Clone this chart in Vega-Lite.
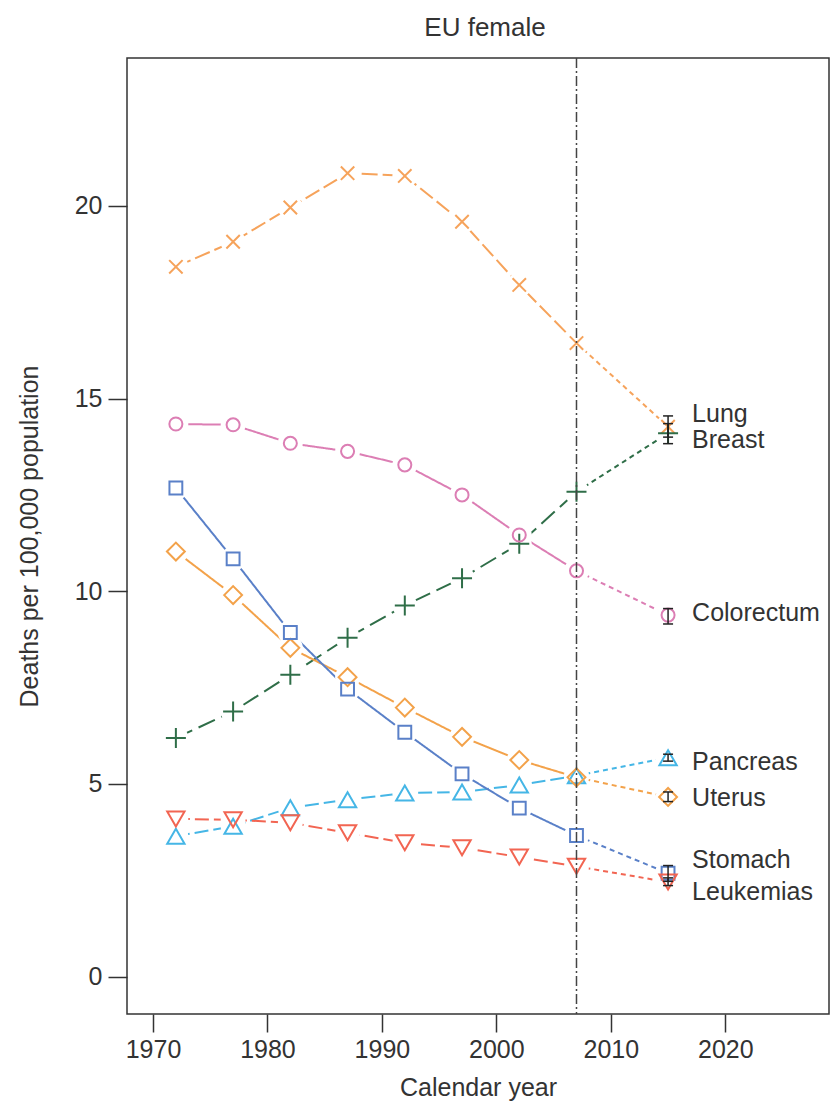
{
  "$schema": "https://vega.github.io/schema/vega-lite/v6.json",
  "width": 702,
  "height": 956,
  "autosize": {"type": "none"},
  "padding": {"left": 127, "top": 58, "right": 2, "bottom": 92},
  "title": {"text": "EU female", "fontSize": 26, "fontWeight": "normal", "color": "#333", "offset": 16, "dx": 7, "font": "Liberation Sans"},
  "config": {
    "font": "Liberation Sans",
    "view": {"stroke": "#333", "strokeWidth": 1.5},
    "axis": {"grid": false, "domain": false, "tickColor": "#333", "tickWidth": 1.5, "labelColor": "#333", "labelFontSize": 25, "titleFontSize": 25, "titleFontWeight": "normal", "titleColor": "#333"},
    "axisX": {"tickSize": 18, "labelPadding": 5, "titlePadding": 13},
    "axisY": {"tickSize": 19, "labelPadding": 6, "titlePadding": 32}
  },
  "datasets": {
    "main": [
      {"cancer": "Lung", "year": 1972, "rate": 18.42},
      {"cancer": "Lung", "year": 1977, "rate": 19.07},
      {"cancer": "Lung", "year": 1982, "rate": 19.96},
      {"cancer": "Lung", "year": 1987, "rate": 20.85},
      {"cancer": "Lung", "year": 1992, "rate": 20.78},
      {"cancer": "Lung", "year": 1997, "rate": 19.59},
      {"cancer": "Lung", "year": 2002, "rate": 17.95},
      {"cancer": "Lung", "year": 2007, "rate": 16.44},
      {"cancer": "Lung", "year": 2015, "rate": 14.27, "lo": 14.0, "hi": 14.55},
      {"cancer": "Breast", "year": 1972, "rate": 6.19},
      {"cancer": "Breast", "year": 1977, "rate": 6.88},
      {"cancer": "Breast", "year": 1982, "rate": 7.83},
      {"cancer": "Breast", "year": 1987, "rate": 8.79},
      {"cancer": "Breast", "year": 1992, "rate": 9.63},
      {"cancer": "Breast", "year": 1997, "rate": 10.34},
      {"cancer": "Breast", "year": 2002, "rate": 11.23},
      {"cancer": "Breast", "year": 2007, "rate": 12.58},
      {"cancer": "Breast", "year": 2015, "rate": 14.1, "lo": 13.83, "hi": 14.35},
      {"cancer": "Colorectum", "year": 1972, "rate": 14.34},
      {"cancer": "Colorectum", "year": 1977, "rate": 14.32},
      {"cancer": "Colorectum", "year": 1982, "rate": 13.84},
      {"cancer": "Colorectum", "year": 1987, "rate": 13.63},
      {"cancer": "Colorectum", "year": 1992, "rate": 13.28},
      {"cancer": "Colorectum", "year": 1997, "rate": 12.5},
      {"cancer": "Colorectum", "year": 2002, "rate": 11.46},
      {"cancer": "Colorectum", "year": 2007, "rate": 10.53},
      {"cancer": "Colorectum", "year": 2015, "rate": 9.38, "lo": 9.15, "hi": 9.55},
      {"cancer": "Pancreas", "year": 1972, "rate": 3.64},
      {"cancer": "Pancreas", "year": 1977, "rate": 3.9},
      {"cancer": "Pancreas", "year": 1982, "rate": 4.38},
      {"cancer": "Pancreas", "year": 1987, "rate": 4.59},
      {"cancer": "Pancreas", "year": 1992, "rate": 4.76},
      {"cancer": "Pancreas", "year": 1997, "rate": 4.79},
      {"cancer": "Pancreas", "year": 2002, "rate": 4.97},
      {"cancer": "Pancreas", "year": 2007, "rate": 5.21},
      {"cancer": "Pancreas", "year": 2015, "rate": 5.68, "lo": 5.59, "hi": 5.77},
      {"cancer": "Uterus", "year": 1972, "rate": 11.03},
      {"cancer": "Uterus", "year": 1977, "rate": 9.9},
      {"cancer": "Uterus", "year": 1982, "rate": 8.53},
      {"cancer": "Uterus", "year": 1987, "rate": 7.77},
      {"cancer": "Uterus", "year": 1992, "rate": 6.98},
      {"cancer": "Uterus", "year": 1997, "rate": 6.22},
      {"cancer": "Uterus", "year": 2002, "rate": 5.62},
      {"cancer": "Uterus", "year": 2007, "rate": 5.17},
      {"cancer": "Uterus", "year": 2015, "rate": 4.66, "lo": 4.54, "hi": 4.79},
      {"cancer": "Stomach", "year": 1972, "rate": 12.68},
      {"cancer": "Stomach", "year": 1977, "rate": 10.84},
      {"cancer": "Stomach", "year": 1982, "rate": 8.93},
      {"cancer": "Stomach", "year": 1987, "rate": 7.46},
      {"cancer": "Stomach", "year": 1992, "rate": 6.34},
      {"cancer": "Stomach", "year": 1997, "rate": 5.26},
      {"cancer": "Stomach", "year": 2002, "rate": 4.37},
      {"cancer": "Stomach", "year": 2007, "rate": 3.66},
      {"cancer": "Stomach", "year": 2015, "rate": 2.68, "lo": 2.47, "hi": 2.88},
      {"cancer": "Leukemias", "year": 1972, "rate": 4.09},
      {"cancer": "Leukemias", "year": 1977, "rate": 4.07},
      {"cancer": "Leukemias", "year": 1982, "rate": 3.99},
      {"cancer": "Leukemias", "year": 1987, "rate": 3.73},
      {"cancer": "Leukemias", "year": 1992, "rate": 3.47},
      {"cancer": "Leukemias", "year": 1997, "rate": 3.34},
      {"cancer": "Leukemias", "year": 2002, "rate": 3.1},
      {"cancer": "Leukemias", "year": 2007, "rate": 2.86},
      {"cancer": "Leukemias", "year": 2015, "rate": 2.45, "lo": 2.36, "hi": 2.56}
    ],
    "labels": [
      {"cancer": "Lung", "year": 2017.1, "rate": 14.6},
      {"cancer": "Breast", "year": 2017.1, "rate": 13.92},
      {"cancer": "Colorectum", "year": 2017.1, "rate": 9.44},
      {"cancer": "Pancreas", "year": 2017.1, "rate": 5.57},
      {"cancer": "Uterus", "year": 2017.1, "rate": 4.63},
      {"cancer": "Stomach", "year": 2017.1, "rate": 3.02},
      {"cancer": "Leukemias", "year": 2017.1, "rate": 2.19}
    ],
    "vline": [{"year": 2007}]
  },
  "layer": [
    {
      "data": {"name": "main"},
      "transform": [{"filter": "datum.year <= 2007"}],
      "mark": {"type": "line", "strokeWidth": 2},
      "encoding": {
        "x": {"field": "year", "type": "quantitative", "scale": {"domain": [1967.73, 2029.06], "nice": false, "zero": false}, "axis": {"values": [1970, 1980, 1990, 2000, 2010, 2020], "format": "d"}, "title": "Calendar year"},
        "y": {"field": "rate", "type": "quantitative", "scale": {"domain": [-0.973, 23.84], "nice": false, "zero": false}, "axis": {"values": [0, 5, 10, 15, 20]}, "title": "Deaths per 100,000 population"},
        "color": {"field": "cancer", "type": "nominal", "legend": null, "scale": {"domain": ["Lung", "Breast", "Colorectum", "Pancreas", "Uterus", "Stomach", "Leukemias"], "range": ["#F6A35B", "#2F6E48", "#DC7EB4", "#45B6E6", "#F3A24A", "#5A80C8", "#F26552"]}},
        "strokeDash": {"field": "cancer", "type": "nominal", "legend": null, "scale": {"domain": ["Lung", "Breast", "Colorectum", "Pancreas", "Uterus", "Stomach", "Leukemias"], "range": [[16, 5], [18, 7], [1, 0], [14, 5], [1, 0], [1, 0], [14, 5]]}}
      }
    },
    {
      "data": {"name": "main"},
      "transform": [{"filter": "datum.year >= 2007"}],
      "mark": {"type": "line", "strokeWidth": 2, "strokeDash": [5, 4]},
      "encoding": {
        "x": {"field": "year", "type": "quantitative", "title": "Calendar year"},
        "y": {"field": "rate", "type": "quantitative", "title": "Deaths per 100,000 population"},
        "color": {"field": "cancer", "type": "nominal", "legend": null},
        "detail": {"field": "cancer"}
      }
    },
    {
      "data": {"name": "main"},
      "mark": {"type": "point", "filled": true, "shape": "circle", "size": 620, "color": "white", "opacity": 1, "strokeWidth": 0},
      "encoding": {
        "x": {"field": "year", "type": "quantitative", "title": "Calendar year"},
        "y": {"field": "rate", "type": "quantitative", "title": "Deaths per 100,000 population"}
      }
    },
    {
      "data": {"name": "main"},
      "mark": {"type": "point", "filled": false, "strokeWidth": 2, "opacity": 1},
      "encoding": {
        "x": {"field": "year", "type": "quantitative", "title": "Calendar year"},
        "y": {"field": "rate", "type": "quantitative", "title": "Deaths per 100,000 population"},
        "color": {"field": "cancer", "type": "nominal", "legend": null},
        "shape": {"field": "cancer", "type": "nominal", "legend": null, "scale": {"domain": ["Lung", "Breast", "Colorectum", "Pancreas", "Uterus", "Stomach", "Leukemias"], "range": ["M-1,-1L1,1M-1,1L1,-1", "M-1,0L1,0M0,-1L0,1", "circle", "triangle-up", "diamond", "square", "triangle-down"]}},
        "size": {"field": "cancer", "type": "nominal", "legend": null, "scale": {"type": "ordinal", "domain": ["Lung", "Breast", "Colorectum", "Pancreas", "Uterus", "Stomach", "Leukemias"], "range": [180, 400, 170, 300, 320, 165, 300]}}
      }
    },
    {
      "data": {"name": "main"},
      "transform": [{"filter": "datum.year == 2015"}],
      "mark": {"type": "rule", "color": "#222", "strokeWidth": 1.5},
      "encoding": {
        "x": {"field": "year", "type": "quantitative", "title": "Calendar year"},
        "y": {"field": "lo", "type": "quantitative", "title": "Deaths per 100,000 population"},
        "y2": {"field": "hi"}
      }
    },
    {
      "data": {"name": "main"},
      "transform": [{"filter": "datum.year == 2015"}],
      "mark": {"type": "tick", "orient": "horizontal", "color": "#222", "size": 10, "thickness": 1.5, "opacity": 1},
      "encoding": {
        "x": {"field": "year", "type": "quantitative", "title": "Calendar year"},
        "y": {"field": "lo", "type": "quantitative", "title": "Deaths per 100,000 population"}
      }
    },
    {
      "data": {"name": "main"},
      "transform": [{"filter": "datum.year == 2015"}],
      "mark": {"type": "tick", "orient": "horizontal", "color": "#222", "size": 10, "thickness": 1.5, "opacity": 1},
      "encoding": {
        "x": {"field": "year", "type": "quantitative", "title": "Calendar year"},
        "y": {"field": "hi", "type": "quantitative", "title": "Deaths per 100,000 population"}
      }
    },
    {
      "data": {"name": "vline"},
      "mark": {"type": "rule", "color": "#444", "strokeWidth": 1.5, "strokeDash": [10, 3, 2, 3]},
      "encoding": {
        "x": {"field": "year", "type": "quantitative", "title": "Calendar year"}
      }
    },
    {
      "data": {"name": "labels"},
      "mark": {"type": "text", "align": "left", "baseline": "middle", "fontSize": 25, "color": "#333"},
      "encoding": {
        "x": {"field": "year", "type": "quantitative", "title": "Calendar year"},
        "y": {"field": "rate", "type": "quantitative", "title": "Deaths per 100,000 population"},
        "text": {"field": "cancer"}
      }
    }
  ]
}
